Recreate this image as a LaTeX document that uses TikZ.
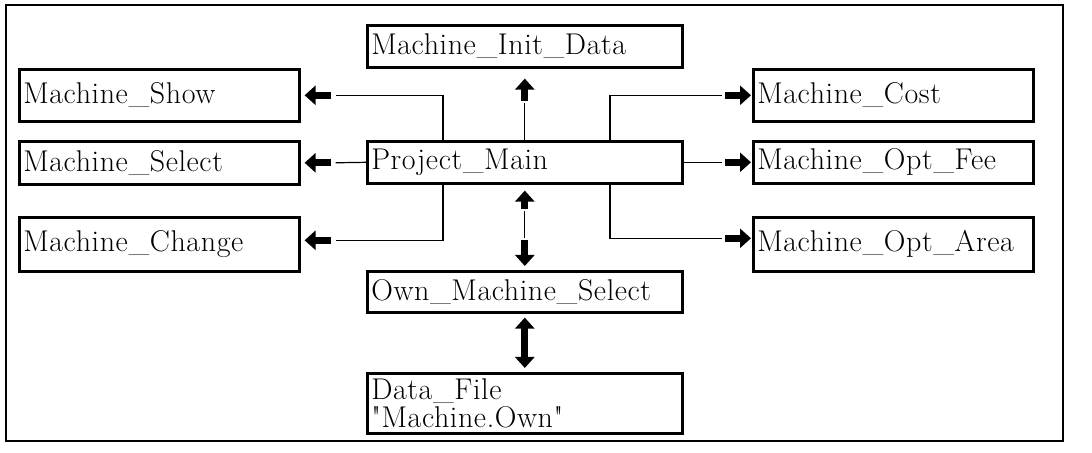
\documentclass[tikz,border=0pt]{standalone}
\usepackage{fontspec}
\setmainfont{Latin Modern Roman}[LetterSpace=2, Ligatures=TeXOff]
\usetikzlibrary{arrows.meta}
\begin{document}
\begin{tikzpicture}[x=0.5pt, y=-0.5pt,
  blk/.style={draw, line width=1.3pt, anchor=north west, inner xsep=2pt,
    inner ysep=0pt, align=left, font=\fontsize{15}{14}\selectfont},
  narrow/.style={blk, text width=136pt},
  wide/.style={blk, text width=153.5pt},
  conn/.style={line width=0.6pt},
  fattip/.tip={Triangle[length=5.5pt 0, width=9.5pt 0]},
  fatarrow/.style={line width=3.6pt, -fattip},
  fatboth/.style={line width=3.6pt, fattip-fattip}]
\useasboundingbox (0,0) rectangle (1092,453);
% outer frame
\draw[line width=1pt] (6,5) rectangle (1063,441);

% module boxes
\node[wide, minimum height=21pt] (init) at (366,24) {Machine\_Init\_Data};
\node[narrow, minimum height=26pt] (show) at (18,68) {Machine\_Show};
\node[narrow, minimum height=21.5pt] (select) at (18,140) {Machine\_Select};
\node[narrow, minimum height=27pt] (change) at (18,216) {Machine\_Change};
\node[wide, minimum height=21pt] (pm) at (366,140) {Project\_Main};
\node[narrow, minimum height=26pt] (cost) at (752,68) {Machine\_Cost};
\node[narrow, minimum height=21pt] (fee) at (752,140) {Machine\_Opt\_Fee};
\node[narrow, minimum height=27pt] (area) at (752,216) {Machine\_Opt\_Area};
\node[wide, minimum height=20.5pt] (own) at (366,270) {Own\_Machine\_Select};
\node[wide, minimum height=30pt] (data) at (366,372) {Data\_File\\"Machine.Own"};

% vertical trunks of the branch lines
\coordinate (lx) at (443,0);
\coordinate (rx) at (610,0);

% left branches
\draw[conn] (pm.north -| lx) |- ([xshift=17.5pt]show.east);
\draw[fatarrow] ([xshift=15pt]show.east) -- ([xshift=2pt]show.east);
\draw[conn] (pm.west) -- ([xshift=17.5pt]select.east);
\draw[fatarrow] ([xshift=15pt]select.east) -- ([xshift=2pt]select.east);
\draw[conn] (pm.south -| lx) |- ([xshift=17.5pt,yshift=2pt]change.east);
\draw[fatarrow] ([xshift=15pt,yshift=2pt]change.east) -- ([xshift=2pt,yshift=2pt]change.east);

% right branches
\draw[conn] (pm.north -| rx) |- ([xshift=-15pt]cost.west);
\draw[fatarrow] ([xshift=-13.5pt]cost.west) -- ([xshift=-0.5pt]cost.west);
\draw[conn] (pm.east) -- ([xshift=-15pt]fee.west);
\draw[fatarrow] ([xshift=-13.5pt]fee.west) -- ([xshift=-0.5pt]fee.west);
\draw[conn] (pm.south -| rx) |- ([xshift=-15pt,yshift=3pt]area.west);
\draw[fatarrow] ([xshift=-13.5pt,yshift=3pt]area.west) -- ([xshift=-0.5pt,yshift=3pt]area.west);

% upward to the init data
\draw[conn] (pm.north) -- ([yshift=-17pt]init.south -| pm.north);
\draw[fatarrow] ([yshift=-16pt]init.south -| pm.north) -- ([yshift=-5pt]init.south -| pm.north);

% main <-> own machine select
\draw[fatarrow] ([yshift=-12pt]pm.south) -- ([yshift=-3pt]pm.south);
\draw[conn] ([yshift=-13pt]pm.south) -- ([yshift=16pt]own.north);
\draw[fatarrow] ([yshift=15pt]own.north) -- ([yshift=2pt]own.north);

% own machine select <-> data file
\draw[fatboth] ([yshift=-2pt]own.south) -- ([yshift=2pt]data.north);
\end{tikzpicture}
\end{document}
